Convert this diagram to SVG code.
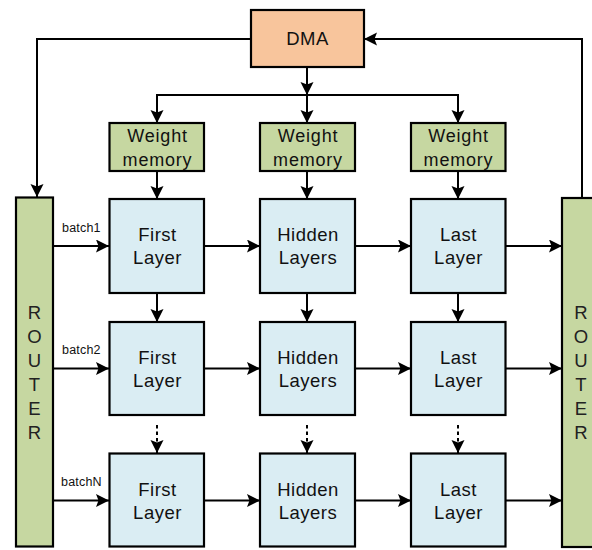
<svg xmlns="http://www.w3.org/2000/svg" width="592" height="550" viewBox="0 0 592 550">
<style>
.box{stroke:#000;stroke-width:2.2}
.dma{fill:#F8C59C}
.grn{fill:#C6D7A1}
.blu{fill:#DAEDF3}
.t{font-family:"Liberation Sans",Arial,sans-serif;font-size:18.5px;fill:#111;text-anchor:middle;letter-spacing:0.5px}
.wm{font-size:18px;letter-spacing:0.8px}
.r{letter-spacing:0;fill:#222}
.b{font-family:"Liberation Sans",Arial,sans-serif;font-size:12.5px;fill:#111;letter-spacing:0.2px}
.c{fill:none;stroke:#000;stroke-width:2}
.d{stroke-dasharray:3.5 3}
</style>
<defs>
<marker id="ah" markerUnits="userSpaceOnUse" markerWidth="14" markerHeight="14" refX="13" refY="6.5" orient="auto">
<path d="M0,0 L13,6.5 L0,13 L2.5,6.5 z" fill="#000"/>
</marker>
</defs>
<rect width="592" height="550" fill="#fff"/>
<g id="connectors">
<polyline class="c" points="251,39 37,39 37,197" marker-end="url(#ah)"/>
<polyline class="c" points="582,198 582,39 364,39" marker-end="url(#ah)"/>
<line class="c" x1="307" y1="67" x2="307" y2="95" marker-end="url(#ah)"/>
<polyline class="c" points="157,123 157,95 458,95 458,123" marker-end="url(#ah)"/>
<line class="c" x1="157" y1="95" x2="157" y2="123" marker-end="url(#ah)"/>
<line class="c" x1="307" y1="95" x2="307" y2="123" marker-end="url(#ah)"/>
<line class="c" x1="157" y1="171" x2="157" y2="199" marker-end="url(#ah)"/>
<line class="c" x1="307" y1="171" x2="307" y2="199" marker-end="url(#ah)"/>
<line class="c" x1="458" y1="171" x2="458" y2="199" marker-end="url(#ah)"/>
<line class="c" x1="157" y1="293" x2="157" y2="322" marker-end="url(#ah)"/>
<line class="c" x1="307" y1="293" x2="307" y2="322" marker-end="url(#ah)"/>
<line class="c" x1="458" y1="293" x2="458" y2="322" marker-end="url(#ah)"/>
<line class="c d" x1="157" y1="425" x2="157" y2="453" marker-end="url(#ah)"/>
<line class="c d" x1="307" y1="425" x2="307" y2="453" marker-end="url(#ah)"/>
<line class="c d" x1="458" y1="425" x2="458" y2="453" marker-end="url(#ah)"/>
<line class="c" x1="53" y1="246" x2="109" y2="246" marker-end="url(#ah)"/>
<line class="c" x1="204" y1="246" x2="260" y2="246" marker-end="url(#ah)"/>
<line class="c" x1="355" y1="246" x2="411" y2="246" marker-end="url(#ah)"/>
<line class="c" x1="505" y1="246" x2="562" y2="246" marker-end="url(#ah)"/>
<line class="c" x1="53" y1="368.5" x2="109" y2="368.5" marker-end="url(#ah)"/>
<line class="c" x1="204" y1="368.5" x2="260" y2="368.5" marker-end="url(#ah)"/>
<line class="c" x1="355" y1="368.5" x2="411" y2="368.5" marker-end="url(#ah)"/>
<line class="c" x1="505" y1="368.5" x2="562" y2="368.5" marker-end="url(#ah)"/>
<line class="c" x1="53" y1="500.5" x2="109" y2="500.5" marker-end="url(#ah)"/>
<line class="c" x1="204" y1="500.5" x2="260" y2="500.5" marker-end="url(#ah)"/>
<line class="c" x1="355" y1="500.5" x2="411" y2="500.5" marker-end="url(#ah)"/>
<line class="c" x1="505" y1="500.5" x2="562" y2="500.5" marker-end="url(#ah)"/>
<text class="b" x="62" y="232">batch1</text>
<text class="b" x="62" y="354">batch2</text>
<text class="b" x="61" y="486">batchN</text>
</g>
<g id="dma"><rect class="box dma" x="251" y="10" width="113" height="57"/><text class="t" x="307.5" y="45">DMA</text></g>
<g id="wm1"><rect class="box grn" x="109.5" y="123" width="94.5" height="48"/><text class="t wm" x="157.5" y="142">Weight</text><text class="t wm" x="157.5" y="165.5">memory</text></g>
<g id="wm2"><rect class="box grn" x="260" y="123" width="95" height="48"/><text class="t wm" x="308" y="142">Weight</text><text class="t wm" x="308" y="165.5">memory</text></g>
<g id="wm3"><rect class="box grn" x="411" y="123" width="94.5" height="48"/><text class="t wm" x="458.5" y="142">Weight</text><text class="t wm" x="458.5" y="165.5">memory</text></g>
<g id="routerL"><rect class="box grn" x="16" y="197.5" width="37" height="349"/>
<text class="t r" x="34.5" y="319">R</text><text class="t r" x="34.5" y="343">O</text><text class="t r" x="34.5" y="367">U</text><text class="t r" x="34.5" y="391">T</text><text class="t r" x="34.5" y="415">E</text><text class="t r" x="34.5" y="439">R</text></g>
<g id="routerR"><rect class="box grn" x="562" y="198" width="40" height="349"/>
<text class="t r" x="581" y="319">R</text><text class="t r" x="581" y="343">O</text><text class="t r" x="581" y="367">U</text><text class="t r" x="581" y="391">T</text><text class="t r" x="581" y="415">E</text><text class="t r" x="581" y="439">R</text></g>
<g id="f1"><rect class="box blu" x="109.5" y="199" width="94.5" height="94"/><text class="t" x="157.5" y="241">First</text><text class="t" x="157.5" y="264">Layer</text></g>
<g id="h1"><rect class="box blu" x="260" y="199" width="95" height="94"/><text class="t" x="308" y="241">Hidden</text><text class="t" x="308" y="264">Layers</text></g>
<g id="l1"><rect class="box blu" x="411" y="199" width="94.5" height="94"/><text class="t" x="458.5" y="241">Last</text><text class="t" x="458.5" y="264">Layer</text></g>
<g id="f2"><rect class="box blu" x="109.5" y="322" width="94.5" height="93"/><text class="t" x="157.5" y="363.5">First</text><text class="t" x="157.5" y="386.5">Layer</text></g>
<g id="h2"><rect class="box blu" x="260" y="322" width="95" height="93"/><text class="t" x="308" y="363.5">Hidden</text><text class="t" x="308" y="386.5">Layers</text></g>
<g id="l2"><rect class="box blu" x="411" y="322" width="94.5" height="93"/><text class="t" x="458.5" y="363.5">Last</text><text class="t" x="458.5" y="386.5">Layer</text></g>
<g id="f3"><rect class="box blu" x="109.5" y="453.5" width="94.5" height="93"/><text class="t" x="157.5" y="495.5">First</text><text class="t" x="157.5" y="518.5">Layer</text></g>
<g id="h3"><rect class="box blu" x="260" y="453.5" width="95" height="93"/><text class="t" x="308" y="495.5">Hidden</text><text class="t" x="308" y="518.5">Layers</text></g>
<g id="l3"><rect class="box blu" x="411" y="453.5" width="94.5" height="93"/><text class="t" x="458.5" y="495.5">Last</text><text class="t" x="458.5" y="518.5">Layer</text></g>
</svg>
